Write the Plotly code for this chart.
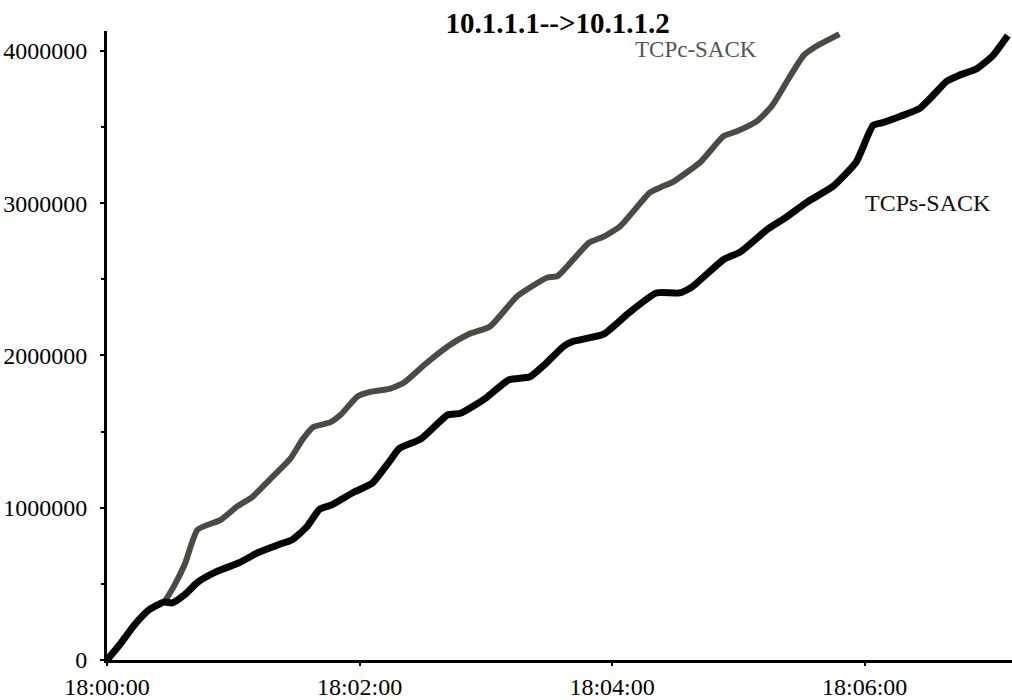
import pandas as pd
import plotly.graph_objects as go

# seconds after 18:00:00 and cumulative bytes
tcpc_sec = [0, 6, 13, 20, 27, 32, 37, 43, 54, 62, 69, 77, 87, 93, 98, 106, 111, 119, 125,
            134, 141, 151, 162, 172, 182, 195, 209, 214, 229, 236, 244, 258, 264, 269, 282,
            293, 299, 309, 316, 324, 331, 337, 348]
tcpc_val = [0, 100000, 230000, 330000, 380000, 490000, 630000, 855000, 920000, 1010000,
            1070000, 1180000, 1320000, 1450000, 1530000, 1560000, 1610000, 1730000, 1760000,
            1780000, 1820000, 1940000, 2060000, 2140000, 2190000, 2390000, 2510000, 2520000,
            2740000, 2780000, 2850000, 3070000, 3110000, 3140000, 3270000, 3440000, 3470000,
            3540000, 3640000, 3820000, 3970000, 4030000, 4110000]

tcps_sec = [0, 6, 13, 20, 27, 31, 37, 43, 52, 63, 71, 82, 88, 95, 101, 107, 117, 126, 134,
            139, 149, 162, 168, 180, 191, 201, 208, 217, 221, 236, 248, 261, 272, 278, 293,
            301, 314, 323, 333, 345, 356, 364, 369, 377, 386, 392, 399, 405, 413, 421, 428]
tcps_val = [0, 100000, 230000, 330000, 380000, 375000, 430000, 510000, 580000, 640000,
            700000, 760000, 790000, 875000, 990000, 1020000, 1100000, 1160000, 1300000,
            1390000, 1450000, 1610000, 1620000, 1720000, 1840000, 1860000, 1940000, 2060000,
            2090000, 2140000, 2280000, 2410000, 2410000, 2450000, 2630000, 2680000, 2830000,
            2910000, 3010000, 3110000, 3270000, 3510000, 3530000, 3570000, 3620000, 3700000,
            3800000, 3840000, 3880000, 3970000, 4100000]

title_text = "10.1.1.1-->10.1.1.2"
label_c = "TCPc-SACK"
label_s = "TCPs-SACK"

base = pd.Timestamp("2000-01-01 18:00:00")
tc = [base + pd.Timedelta(seconds=s) for s in tcpc_sec]
ts = [base + pd.Timedelta(seconds=s) for s in tcps_sec]

SERIF = "Liberation Serif, Times New Roman, serif"

fig = go.Figure()
fig.add_trace(go.Scatter(x=tc, y=tcpc_val, mode="lines", name=label_c,
                         line=dict(color="#484c42", width=6, shape="spline", smoothing=0.5)))
fig.add_trace(go.Scatter(x=ts, y=tcps_val, mode="lines", name=label_s,
                         line=dict(color="#050505", width=7, shape="spline", smoothing=0.5)))

fig.add_annotation(x=base + pd.Timedelta(seconds=280), y=4010000, text=label_c,
                   showarrow=False, font=dict(family=SERIF, size=23, color="#555555"),
                   xanchor="center", yanchor="middle")
fig.add_annotation(x=base + pd.Timedelta(seconds=390), y=3000000, text=label_s,
                   showarrow=False, font=dict(family=SERIF, size=24, color="#111111"),
                   xanchor="center", yanchor="middle")

fig.update_layout(
    width=1012, height=700,
    margin=dict(l=107, r=0, t=31, b=40),
    paper_bgcolor="white", plot_bgcolor="white",
    showlegend=False,
    title=dict(text="<b>" + title_text + "</b>", x=0.551, xanchor="center",
               y=0.968, yanchor="middle",
               font=dict(family=SERIF, size=29, color="#000000")),
    font=dict(family=SERIF, size=24, color="#000000"),
)
fig.update_xaxes(
    range=[base, base + pd.Timedelta(seconds=430)],
    tickformat="%H:%M:%S", dtick=120000, tick0=base,
    showgrid=False, zeroline=False,
    showline=True, linecolor="black", linewidth=3,
    ticks="outside", ticklen=3, tickwidth=2, tickcolor="black",
    tickfont=dict(family=SERIF, size=24, color="black"),
)
fig.update_yaxes(
    range=[0, 4130000], tickvals=[0, 1000000, 2000000, 3000000, 4000000],
    tickformat="d",
    showgrid=False, zeroline=False,
    showline=True, linecolor="black", linewidth=3,
    ticks="outside", ticklen=4, tickwidth=2, tickcolor="black",
    ticklabelstandoff=8,
    minor=dict(tickvals=[500000, 1500000, 2500000, 3500000], ticks="outside",
               ticklen=3, tickwidth=2, tickcolor="black"),
    tickfont=dict(family=SERIF, size=24, color="black"),
)

fig.write_html("out.html")
